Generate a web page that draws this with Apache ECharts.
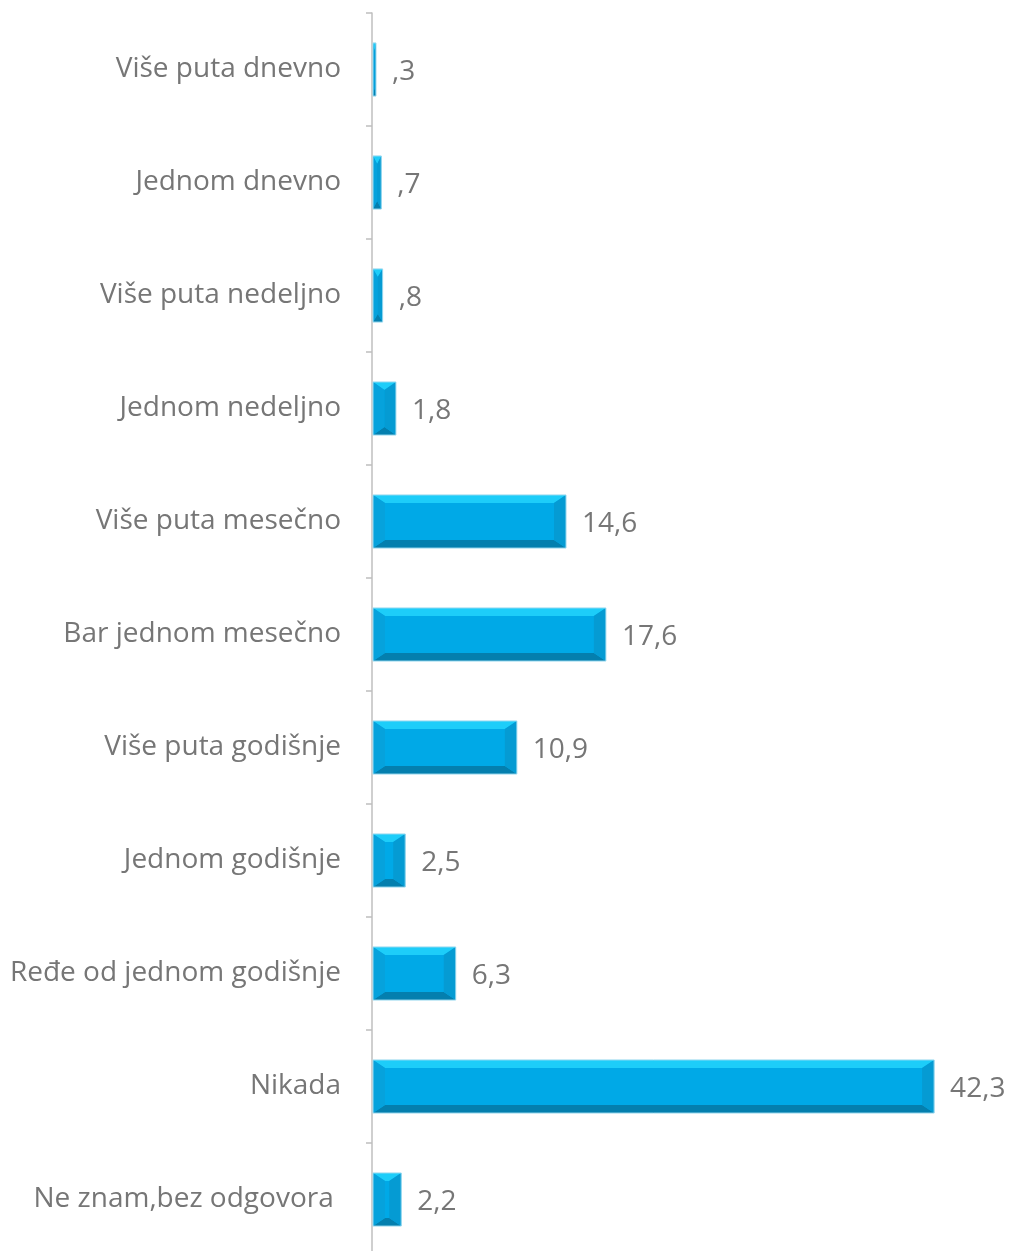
<!DOCTYPE html>
<html>
<head>
<meta charset="utf-8">
<script src="https://cdn.jsdelivr.net/npm/echarts@6/dist/echarts.min.js"></script>
<style>
  html, body { margin: 0; padding: 0; background: #fff; }
  #chart { width: 1016px; height: 1251px; }
</style>
</head>
<body>
<div id="chart"></div>
<script>
const categories = [
  'Više puta dnevno',
  'Jednom dnevno',
  'Više puta nedeljno',
  'Jednom nedeljno',
  'Više puta mesečno',
  'Bar jednom mesečno',
  'Više puta godišnje',
  'Jednom godišnje',
  'Ređe od jednom godišnje',
  'Nikada',
  'Ne znam,bez odgovora ',
]
const values = [0.3, 0.7, 0.8, 1.8, 14.6, 17.6, 10.9, 2.5, 6.3, 42.3, 2.2]

// 0.3 -> ",3", 14.6 -> "14,6"
const fmt = (v) => {
  let s = v.toFixed(1).replace('.', ',')
  if (s.startsWith('0,')) s = s.slice(1)
  return s
}

const chart = echarts.init(document.getElementById('chart'))

const renderBevelBar = (params, api) => {
  const idx = api.value(1)
  const start = api.coord([0, idx])
  const end = api.coord([api.value(0), idx])
  const h = api.size([0, 1])[1] * 0.47
  const x0 = start[0] + 1
  const x1 = end[0]
  const y0 = start[1] - h / 2
  const y1 = start[1] + h / 2
  const w = x1 - x0
  const bx = Math.min(12, w / 2)
  const by = Math.min(8, h / 2)
  const poly = (points, fill) => ({ type: 'polygon', shape: { points }, style: { fill } })
  return {
    type: 'group',
    children: [
      { type: 'rect', shape: { x: x0, y: y0, width: w, height: h }, style: { fill: '#00a9e7' } },
      poly([[x0, y0], [x1, y0], [x1 - bx, y0 + by], [x0 + bx, y0 + by]], '#1dcdf9'),
      poly([[x0, y1], [x1, y1], [x1 - bx, y1 - by], [x0 + bx, y1 - by]], '#047fae'),
      poly([[x0, y0], [x0 + bx, y0 + by], [x0 + bx, y1 - by], [x0, y1]], '#06a2dc'),
      poly([[x1, y0], [x1 - bx, y0 + by], [x1 - bx, y1 - by], [x1, y1]], '#059bd3'),
      { type: 'rect', shape: { x: x0, y: y0, width: w, height: h }, style: { fill: 'none', stroke: '#9ad9ef', lineWidth: 1 } },
      {
        type: 'text',
        x: x1 + 16,
        y: start[1] + 3,
        style: {
          text: fmt(api.value(0)),
          fill: '#767676',
          font: '28px "Open Sans", sans-serif',
          verticalAlign: 'middle',
          align: 'left',
        },
      },
    ],
  }
}

const option = {
  animation: false,
  grid: {
    left: 372,
    right: 46,
    top: 13,
    bottom: -5,
    outerBoundsMode: 'none',
  },
  xAxis: {
    type: 'value',
    min: 0,
    max: 45,
    show: false,
  },
  yAxis: {
    type: 'category',
    inverse: true,
    data: categories,
    axisLine: { show: true, lineStyle: { color: '#bfbfbf', width: 1.5 } },
    axisTick: { show: true, length: 6, lineStyle: { color: '#bfbfbf', width: 1.5 } },
    axisLabel: {
      margin: 31,
      color: '#767676',
      fontSize: 28,
      padding: [4, 0, 0, 0],
      fontFamily: '"Open Sans", sans-serif',
    },
  },
  series: [
    {
      type: 'custom',
      renderItem: renderBevelBar,
      encode: { x: 0, y: 1 },
      data: values.map((v, i) => [v, i]),
    },
  ],
}

chart.setOption(option)
</script>
</body>
</html>
